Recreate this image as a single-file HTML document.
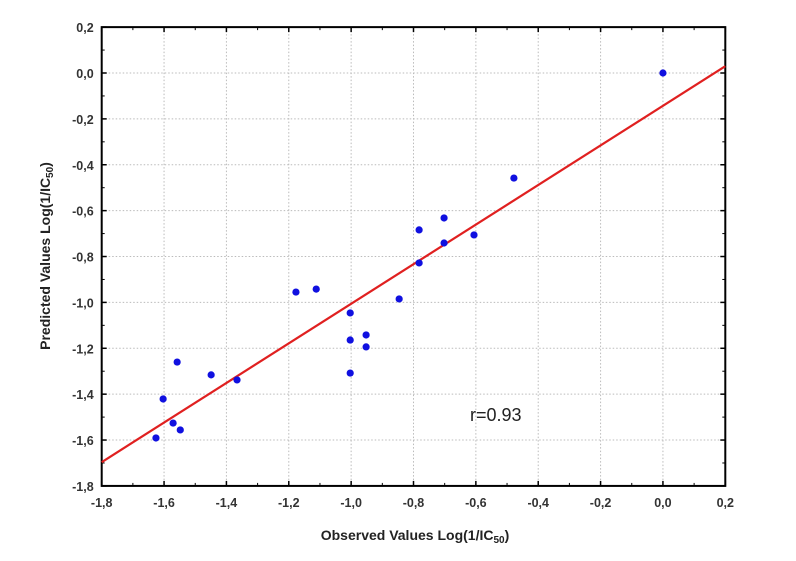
<!DOCTYPE html>
<html><head><meta charset="utf-8"><style>
body{margin:0;background:#fff;}
svg{display:block;font-family:"Liberation Sans",sans-serif;}
</style></head><body>
<svg id="chart" width="796" height="561">
<g id="grid"></g>
<g id="axes"></g>
<g id="marks"></g>
<text x="470" y="421" font-size="18" fill="#222">r=0.93</text>
<text x="415" y="540" font-size="14" font-weight="bold" fill="#222" text-anchor="middle">Observed Values Log(1/IC<tspan font-size="10" dy="3">50</tspan><tspan dy="-3">)</tspan></text>
<text transform="translate(50,256) rotate(-90)" font-size="14" font-weight="bold" fill="#222" text-anchor="middle">Predicted Values Log(1/IC<tspan font-size="10" dy="3">50</tspan><tspan dy="-3">)</tspan></text>
</svg>
<script>
const xTicks=[-1.8,-1.6,-1.4,-1.2,-1.0,-0.8,-0.6,-0.4,-0.2,0.0,0.2];
const yTicks=[-1.8,-1.6,-1.4,-1.2,-1.0,-0.8,-0.6,-0.4,-0.2,0.0,0.2];
const observed=[0,-0.478,-0.702,-0.606,-0.702,-0.782,-0.782,-0.846,-1.177,-1.112,-1.003,-1.003,-0.952,-0.952,-1.003,-1.449,-1.366,-1.558,-1.603,-1.571,-1.548,-1.626];
const predicted=[0,-0.458,-0.632,-0.706,-0.741,-0.684,-0.828,-0.985,-0.955,-0.942,-1.046,-1.164,-1.142,-1.194,-1.308,-1.316,-1.338,-1.260,-1.421,-1.526,-1.556,-1.591];
const fitSlope=[0.863];
const fitIntercept=[-0.143];
const X0=101.7,XK=311.8,Y0=73,YK=229.4;
const xs=v=>X0+(v+1.8)*XK, ys=v=>Y0-v*YK;
const NS='http://www.w3.org/2000/svg';
function mk(tag,attrs,parent){const e=document.createElementNS(NS,tag);for(const k in attrs)e.setAttribute(k,attrs[k]);parent.appendChild(e);return e;}
const grid=document.getElementById('grid'),axes=document.getElementById('axes'),marks=document.getElementById('marks');
const L=xs(-1.8),R=xs(0.2),T=ys(0.2),B=ys(-1.8);
xTicks.forEach((t,i)=>{
  const x=xs(t);
  if(i>0&&i<xTicks.length-1){const g=mk('line',{x1:x,x2:x,y1:T,y2:B,stroke:'#bbb','stroke-dasharray':'1.5,2'},grid);
  
  }
  mk('line',{x1:x,x2:x,y1:B,y2:B-5,stroke:'#000','stroke-width':1.5},axes);
  mk('line',{x1:x,x2:x,y1:T,y2:T+5,stroke:'#000','stroke-width':1.5},axes);
  if(i<xTicks.length-1){const xm=xs(t+0.1);mk('line',{x1:xm,x2:xm,y1:B,y2:B-3,stroke:'#000'},axes);mk('line',{x1:xm,x2:xm,y1:T,y2:T+3,stroke:'#000'},axes);}
  const lb=mk('text',{x:x,y:B+21,'font-size':12.5,'font-weight':'bold','text-anchor':'middle',fill:'#333'},axes);
  lb.textContent=t.toFixed(1).replace('.',',');
  
  
});
yTicks.forEach((t,i)=>{
  const y=ys(t);
  if(i>0&&i<yTicks.length-1){const g=mk('line',{x1:L,x2:R,y1:y,y2:y,stroke:'#bbb','stroke-dasharray':'1.5,2'},grid);
  
  }
  mk('line',{x1:L,x2:L+5,y1:y,y2:y,stroke:'#000','stroke-width':1.5},axes);
  mk('line',{x1:R,x2:R-5,y1:y,y2:y,stroke:'#000','stroke-width':1.5},axes);
  if(i<yTicks.length-1){const ym=ys(t+0.1);mk('line',{x1:L,x2:L+3,y1:ym,y2:ym,stroke:'#000'},axes);mk('line',{x1:R,x2:R-3,y1:ym,y2:ym,stroke:'#000'},axes);}
  const lb=mk('text',{x:L-8,y:y+5,'font-size':12.5,'font-weight':'bold','text-anchor':'end',fill:'#333'},axes);
  lb.textContent=t.toFixed(1).replace('.',',');
  
  
});
const frame=mk('rect',{x:L,y:T,width:R-L,height:B-T,fill:'none',stroke:'#000','stroke-width':2},axes);


const fl=mk('line',{x1:xs(-1.8),y1:ys(fitSlope[0]*-1.8+fitIntercept[0]),x2:xs(0.2),y2:ys(fitSlope[0]*0.2+fitIntercept[0]),stroke:'#e02020','stroke-width':2.2},marks);


observed.forEach((o,i)=>{
  const c=mk('circle',{cx:xs(o),cy:ys(predicted[i]),r:3.6,fill:'#1010e0'},marks);
  
  
});
</script>
</body></html>
